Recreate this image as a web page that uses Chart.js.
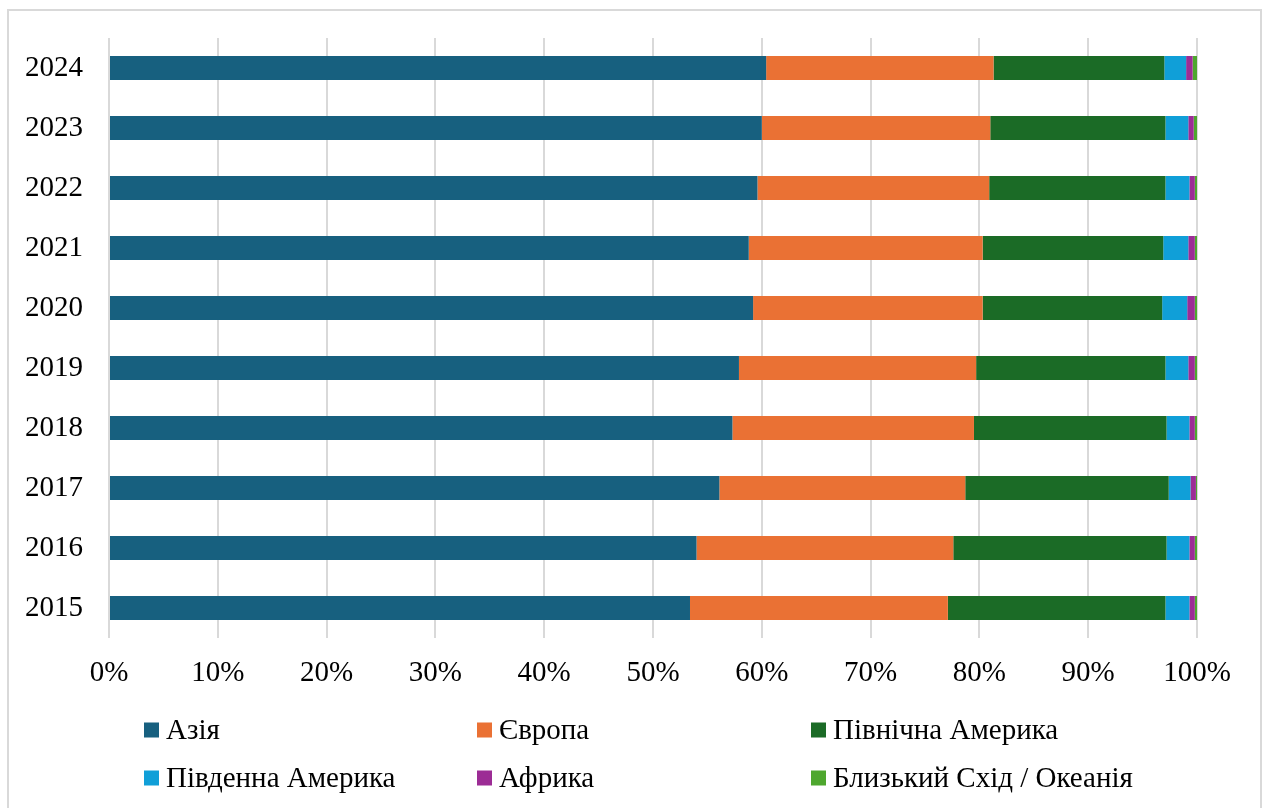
<!DOCTYPE html>
<html>
<head>
<meta charset="utf-8">
<script src="https://cdn.jsdelivr.net/npm/chart.js@4.4.1/dist/chart.umd.min.js"></script>
<style>
  html, body { margin: 0; padding: 0; background: #ffffff; }
  #wrap { width: 1267px; height: 808px; }
</style>
</head>
<body>
<div id="wrap"><canvas id="c" width="1267" height="808"></canvas></div>
<script>
const years = ['2024', '2023', '2022', '2021', '2020', '2019', '2018', '2017', '2016', '2015'];
const seriesNames = ['Азія', 'Європа', 'Північна Америка', 'Південна Америка', 'Африка', 'Близький Схід / Океанія'];
const seriesColors = ['#17607F', '#EA7134', '#1B6B26', '#109FD8', '#9C2C95', '#4EA72E'];
const asia         = [60.4, 60.0, 59.6, 58.8, 59.2, 57.9, 57.3, 56.1, 54.0, 53.4];
const europe       = [20.9, 21.0, 21.3, 21.5, 21.1, 21.8, 22.2, 22.6, 23.6, 23.7];
const northAmerica = [15.7, 16.1, 16.2, 16.6, 16.5, 17.4, 17.7, 18.7, 19.6, 20.0];
const southAmerica = [ 2.0,  2.1,  2.2,  2.3,  2.3,  2.1,  2.1,  2.0,  2.1,  2.2];
const africa       = [ 0.6,  0.5,  0.5,  0.6,  0.7,  0.6,  0.5,  0.5,  0.5,  0.5];
const middleEast   = [ 0.4,  0.3,  0.2,  0.2,  0.2,  0.2,  0.2,  0.1,  0.2,  0.2];
const xTickLabels = ['0%', '10%', '20%', '30%', '40%', '50%', '60%', '70%', '80%', '90%', '100%'];

const seriesValues = [asia, europe, northAmerica, southAmerica, africa, middleEast];
const FONT = "'Liberation Serif', 'Times New Roman', serif";

const framePlugin = {
  id: 'frame',
  beforeDraw(chart) {
    const ctx = chart.ctx;
    ctx.save();
    ctx.fillStyle = '#ffffff';
    ctx.fillRect(0, 0, chart.width, chart.height);
    ctx.strokeStyle = '#d9d9d9';
    ctx.lineWidth = 2;
    ctx.strokeRect(8, 10, 1253, 820);
    ctx.restore();
  }
};

const legendPlugin = {
  id: 'gridLegend',
  afterDraw(chart) {
    const ctx = chart.ctx;
    const cols = [144, 477, 811];
    const rows = [730, 778];
    ctx.save();
    ctx.font = '29px ' + FONT;
    ctx.textBaseline = 'middle';
    ctx.textAlign = 'left';
    chart.data.datasets.forEach((ds, i) => {
      const x = cols[i % 3];
      const y = rows[Math.floor(i / 3)];
      ctx.fillStyle = ds.backgroundColor;
      ctx.fillRect(x, y - 7.5, 15, 15);
      ctx.fillStyle = '#000000';
      ctx.fillText(ds.label, x + 22, y + 1);
    });
    ctx.restore();
  }
};

new Chart(document.getElementById('c'), {
  type: 'bar',
  data: {
    labels: years,
    datasets: seriesNames.map((name, i) => ({
      label: name,
      data: seriesValues[i],
      backgroundColor: seriesColors[i],
      borderWidth: 0,
      categoryPercentage: 1.0,
      barPercentage: 0.4
    }))
  },
  options: {
    indexAxis: 'y',
    responsive: false,
    animation: false,
    layout: { padding: { left: 0, top: 38, right: 70, bottom: 0 } },
    plugins: {
      legend: { display: false },
      tooltip: { enabled: false }
    },
    scales: {
      x: {
        stacked: true,
        min: 0,
        max: 100,
        afterFit(scale) { scale.height = 170; },
        afterBuildTicks(scale) {
          scale.ticks = xTickLabels.map((_, i) => ({ value: i * 10 }));
        },
        ticks: {
          callback: (v, i) => xTickLabels[i],
          font: { family: FONT, size: 29 },
          color: '#000000',
          padding: 18,
          maxRotation: 0,
          autoSkip: false
        },
        grid: { color: '#d9d9d9', lineWidth: 2, drawTicks: false },
        border: { display: false }
      },
      y: {
        stacked: true,
        afterFit(scale) {
          scale.width = 109;
          scale.paddingTop = 0;
          scale.paddingBottom = 0;
        },
        ticks: {
          font: { family: FONT, size: 29 },
          color: '#000000',
          padding: 26
        },
        grid: { display: false, drawTicks: false },
        border: { display: false }
      }
    }
  },
  plugins: [framePlugin, legendPlugin]
});
</script>
</body>
</html>
